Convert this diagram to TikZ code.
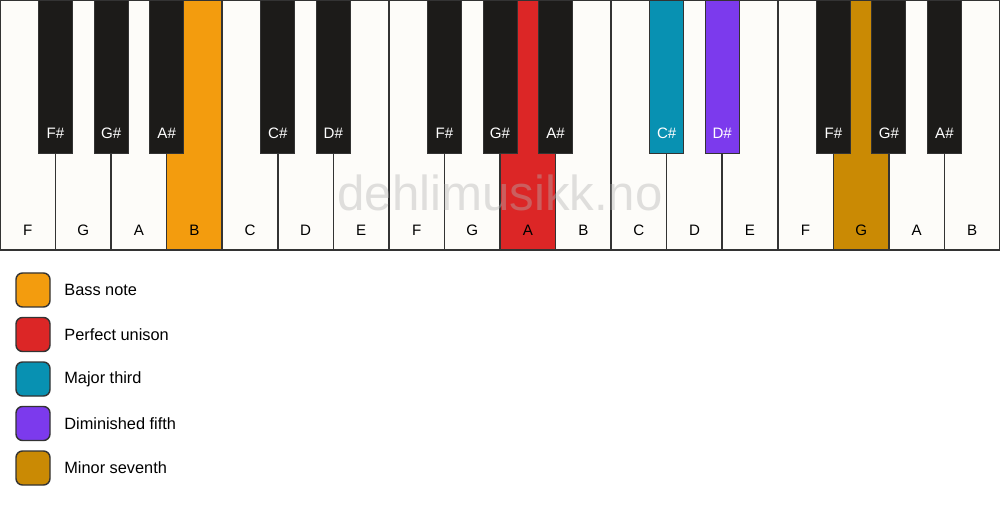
\documentclass[tikz,border=0pt]{standalone}
\usepackage{fontspec}
\setmainfont{Liberation Sans}
\usepackage{xcolor}
\usepackage{tikz}

\definecolor{keywhite}{HTML}{FDFCF9}
\definecolor{keyblack}{HTML}{1C1B19}
\definecolor{keyedge}{HTML}{333333}
\definecolor{bassnote}{HTML}{F39C0E}
\definecolor{unison}{HTML}{DC2626}
\definecolor{majthird}{HTML}{0891B2}
\definecolor{dimfifth}{HTML}{7C3AED}
\definecolor{minseventh}{HTML}{CA8A04}

\tikzset{
  whitekey/.style={draw=keyedge, line width=0.85pt},
  blackkey/.style={draw=keyedge, line width=0.5pt},
  keylabel/.style={font=\fontsize{8.6}{10}\selectfont, text=black, inner sep=0pt},
  blacklabel/.style={font=\fontsize{8.6}{10}\selectfont, text=white, inner sep=0pt},
  legendbox/.style={draw=keyedge, line width=0.8pt, rounded corners=0.13cm},
  legendlabel/.style={font=\fontsize{9.3}{11}\selectfont, anchor=west, inner sep=0pt}
}

\begin{document}
\begin{tikzpicture}[x=0.02cm, y=-0.02cm]

  \useasboundingbox[fill=white] (0,0) rectangle (1000,506);

  % White keys (18 keys, F to B)
  \foreach \i/\n/\c in {0/F/keywhite, 1/G/keywhite, 2/A/keywhite, 3/B/bassnote,
                        4/C/keywhite, 5/D/keywhite, 6/E/keywhite, 7/F/keywhite,
                        8/G/keywhite, 9/A/unison, 10/B/keywhite, 11/C/keywhite,
                        12/D/keywhite, 13/E/keywhite, 14/F/keywhite, 15/G/minseventh,
                        16/A/keywhite, 17/B/keywhite} {
    \draw[whitekey, fill=\c] (\i*55.556,0) rectangle ++(55.556,250);
    \node[keylabel] (w\i) at (\i*55.556+27.778,230) {\n};
  }

  % Watermark
  \node[font=\fontsize{28}{30}\selectfont, text=black!30, opacity=0.4] (mark) at (500,193) {dehlimusikk.no};

  % Black keys, centred on the white key borders
  \foreach \x/\n/\c in {1/F\#/keyblack, 2/G\#/keyblack, 3/A\#/keyblack,
                        5/C\#/keyblack, 6/D\#/keyblack,
                        8/F\#/keyblack, 9/G\#/keyblack, 10/A\#/keyblack,
                        12/C\#/majthird, 13/D\#/dimfifth,
                        15/F\#/keyblack, 16/G\#/keyblack, 17/A\#/keyblack} {
    \draw[blackkey, fill=\c] (\x*55.556-17,0) rectangle ++(34,153);
    \node[blacklabel] (b\x) at (\x*55.556,133) {\n};
  }

  % Legend
  \foreach \y/\c/\t in {290/bassnote/Bass note, 334.5/unison/Perfect unison,
                        379/majthird/Major third, 423.5/dimfifth/Diminished fifth,
                        468/minseventh/Minor seventh} {
    \draw[legendbox, fill=\c] (16,\y-17) rectangle (50,\y+17);
    \node[legendlabel] (lg\c) at (64,\y) {\t};
  }

\end{tikzpicture}
\end{document}
